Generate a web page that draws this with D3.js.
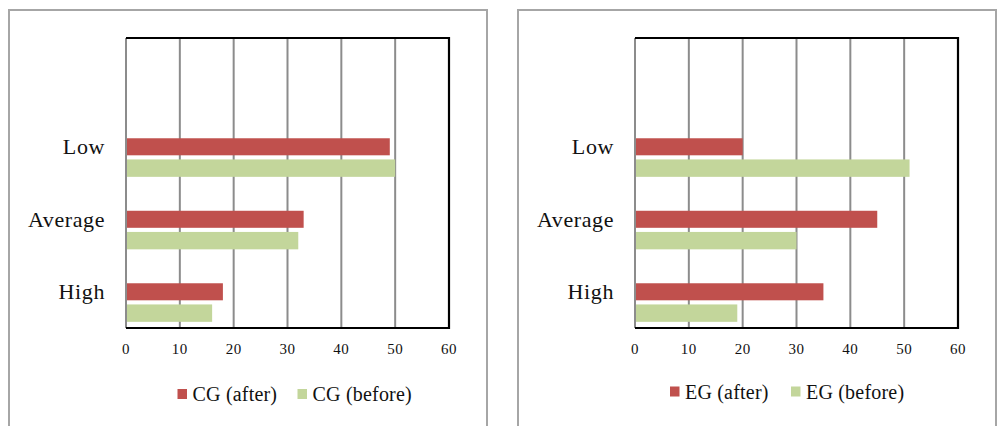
<!DOCTYPE html>
<html><head><meta charset="utf-8">
<script src="https://cdn.jsdelivr.net/npm/d3@7"></script>
<style>
html,body{margin:0;padding:0;background:#fff;}
svg{display:block;}
</style></head><body>
<svg id="chart" width="1003" height="426"></svg>
<script>
const categories = ["Low", "Average", "High"];
const xTicks = [0, 10, 20, 30, 40, 50, 60];
const cgAfter = [49, 33, 18];
const cgBefore = [50, 32, 16];
const egAfter = [20, 45, 35];
const egBefore = [51, 30, 19];
const legendCG = ["CG (after)", "CG (before)"];
const legendEG = ["EG (after)", "EG (before)"];
const colors = ["#C0504D", "#C3D69B"];
const FONT = "'Liberation Serif', 'DejaVu Serif', 'Times New Roman', serif";

const svg = d3.select("#chart");

function panel(o) {
  const g = svg.append("g").attr("font-family", FONT).attr("fill", "#111");
  g.append("rect").attr("x", o.fx).attr("y", 10).attr("width", o.fw).attr("height", 430)
    .attr("fill", "#fff").attr("stroke", "#a6a6a6").attr("stroke-width", 2);
  const x = d3.scaleLinear().domain([0, 60]).range([o.px0, o.px1]);
  const y = d3.scaleBand().domain([" "].concat(categories)).range([38, 328]).padding(0);
  const bw = y.bandwidth();
  g.selectAll(".grid").data(xTicks.slice(1, -1)).enter().append("line")
    .attr("x1", d => x(d)).attr("x2", d => x(d)).attr("y1", 38).attr("y2", 328)
    .attr("stroke", "#8c8c8c").attr("stroke-width", 2);
  g.append("line").attr("x1", x(0)).attr("x2", x(0)).attr("y1", 38).attr("y2", 328)
    .attr("stroke", "#8c8c8c").attr("stroke-width", 2);
  const rows = categories.map((c, i) => ({c, a: o.after[i], b: o.before[i]}));
  g.selectAll(".ba").data(rows).enter().append("rect")
    .attr("x", x(0) + 1).attr("y", d => y(d.c) + bw * 0.383)
    .attr("width", d => x(d.a) - x(0) - 1).attr("height", bw * 0.235)
    .attr("fill", colors[0]);
  g.selectAll(".bb").data(rows).enter().append("rect")
    .attr("x", x(0) + 1).attr("y", d => y(d.c) + bw * 0.675)
    .attr("width", d => x(d.b) - x(0) - 1).attr("height", bw * 0.24)
    .attr("fill", colors[1]);
  g.append("path")
    .attr("d", `M${x(0)},38 H${x(60)} V328 H${x(0)}`)
    .attr("fill", "none").attr("stroke", "#000").attr("stroke-width", 2.2);
  g.selectAll(".cl").data(categories).enter().append("text")
    .attr("x", x(0) - 21).attr("y", d => y(d) + bw * 0.383 + 8.5)
    .attr("dy", "0.35em").attr("text-anchor", "end")
    .attr("font-family", FONT).attr("font-size", 22).attr("letter-spacing", 0.6)
    .text(d => d);
  g.selectAll(".xt").data(xTicks).enter().append("text")
    .attr("x", d => x(d)).attr("y", 349).attr("dy", "0.35em").attr("text-anchor", "middle")
    .attr("font-family", FONT).attr("font-size", 15).attr("letter-spacing", 0.5)
    .text(d => d);
  const lg = g.append("g").attr("transform", `translate(${o.lx},${o.ly})`);
  o.legend.forEach((t, i) => {
    const ox = i === 0 ? 0 : o.l2;
    lg.append("rect").attr("x", ox).attr("y", -5).attr("width", 9.5).attr("height", 10).attr("fill", colors[i]);
    lg.append("text").attr("x", ox + 15).attr("y", 0).attr("dy", "0.35em")
      .attr("font-family", FONT).attr("font-size", 20).attr("letter-spacing", 0.2)
      .text(t);
  });
}

panel({fx: 9, fw: 478, px0: 126, px1: 449, after: cgAfter, before: cgBefore,
  legend: legendCG, lx: 177.5, ly: 394, l2: 120});
panel({fx: 518, fw: 478, px0: 635, px1: 958, after: egAfter, before: egBefore,
  legend: legendEG, lx: 670, ly: 391.5, l2: 121});
</script>
</body></html>
